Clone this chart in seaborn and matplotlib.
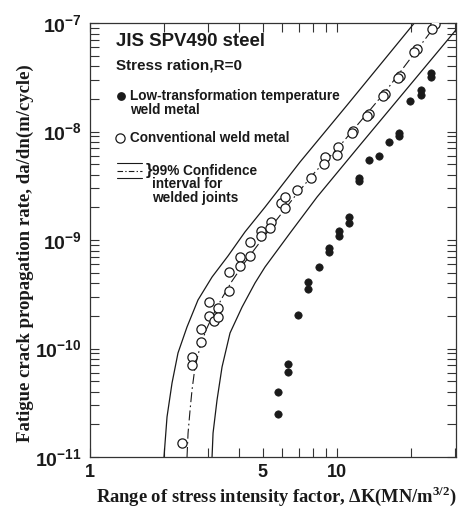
import matplotlib
matplotlib.use("Agg")
import matplotlib.pyplot as plt
import seaborn as sns
import pandas as pd
from matplotlib.ticker import FixedLocator, FixedFormatter, NullFormatter

# ---------------- data ----------------
conv_dk = [2.358, 2.588, 2.588, 2.814, 2.814, 3.032, 3.032, 3.177, 3.298, 3.298,
           3.654, 3.654, 4.049, 4.049, 4.445, 4.445, 4.925, 4.925, 5.405, 5.355,
           5.933, 6.158, 6.158, 6.889, 7.846, 8.942, 8.860, 10.09, 10.0, 11.61,
           11.50, 13.48, 13.23, 15.64, 15.36, 17.99, 17.66, 21.08, 20.50, 24.94, 24.25]
conv_rate = [1.35e-11, 8.35e-11, 7.05e-11, 1.51e-10, 1.15e-10, 2.68e-10, 2.0e-10, 1.79e-10,
             2.36e-10, 1.95e-10, 5.07e-10, 3.39e-10, 6.97e-10, 5.76e-10, 7.13e-10, 9.59e-10,
             1.21e-9, 1.09e-9, 1.47e-9, 1.29e-9, 2.19e-9, 2.49e-9, 1.97e-9, 2.89e-9, 3.73e-9,
             5.82e-9, 5.01e-9, 7.19e-9, 6.07e-9, 1.01e-8, 9.69e-9, 1.45e-8, 1.39e-8, 2.22e-8,
             2.12e-8, 3.25e-8, 3.11e-8, 5.76e-8, 5.41e-8, 9.79e-8, 8.81e-8]

ltt_dk = [5.769, 5.769, 6.333, 6.333, 6.953, 7.630, 7.630, 8.456, 9.282, 9.282,
          10.19, 10.19, 11.18, 11.18, 12.28, 12.28, 13.48, 14.79, 16.24, 17.82,
          17.82, 19.75, 21.88, 21.88, 24.02, 24.02]
ltt_rate = [2.49e-11, 3.97e-11, 6.07e-11, 7.2e-11, 2.04e-10, 3.53e-10, 4.1e-10, 5.64e-10,
            7.75e-10, 8.44e-10, 1.09e-9, 1.21e-9, 1.44e-9, 1.63e-9, 3.5e-9, 3.73e-9,
            5.46e-9, 5.94e-9, 8.0e-9, 9.1e-9, 9.69e-9, 1.91e-8, 2.17e-8, 2.41e-8,
            3.18e-8, 3.46e-8]

upper_dk = [1.993, 2.050, 2.148, 2.271, 2.470, 2.736, 3.119, 3.620, 4.243, 5.110,
            7.084, 10.98, 20.70]
upper_rate = [1.0e-11, 2.34e-11, 4.81e-11, 9.1e-11, 1.58e-10, 2.80e-10, 4.56e-10,
              7.13e-10, 1.19e-9, 2.01e-9, 5.24e-9, 1.75e-8, 1.02e-7]

mean_dk = [2.470, 2.494, 2.541, 2.588, 2.661, 2.788, 2.949, 3.148, 3.423, 3.758,
           4.243, 4.879, 5.610, 6.761, 8.146, 10.09, 15.64, 24.94]
mean_rate = [1.0e-11, 1.66e-11, 2.71e-11, 4.15e-11, 6.75e-11, 1.03e-10, 1.48e-10,
             2.04e-10, 2.92e-10, 4.19e-10, 6.27e-10, 9.59e-10, 1.47e-9, 2.54e-9,
             4.23e-9, 7.05e-9, 2.31e-8, 9.39e-8]

lower_dk = [3.119, 3.148, 3.267, 3.423, 3.688, 4.126, 4.656, 5.110, 6.453, 8.299,
            12.39, 31.47]
lower_rate = [1.0e-11, 1.66e-11, 3.35e-11, 6.75e-11, 1.39e-10, 2.41e-10, 4.02e-10,
              5.64e-10, 1.16e-9, 2.49e-9, 7.51e-9, 9.59e-8]

x_major = [1, 5, 10]
x_major_labels = ["1", "5", "10"]
x_minor = [2, 3, 4, 6, 7, 8, 9, 20, 30]
y_major = [1e-11, 1e-10, 1e-9, 1e-8, 1e-7]
y_major_labels = [r"$\mathsf{10^{-11}}$", r"$\mathsf{10^{-10}}$", r"$\mathsf{10^{-9}}$",
                  r"$\mathsf{10^{-8}}$", r"$\mathsf{10^{-7}}$"]
y_minor = [m * 10.0 ** e for e in range(-11, -7) for m in range(2, 10)]

# ---------------- style ----------------
sns.set_style("ticks")
plt.rcParams["font.family"] = ["Liberation Sans", "DejaVu Sans"]
plt.rcParams["font.weight"] = "bold"
plt.rcParams["mathtext.fontset"] = "custom"
plt.rcParams["mathtext.rm"] = "Liberation Serif:bold"
plt.rcParams["mathtext.sf"] = "Liberation Sans:bold"
plt.rcParams["mathtext.bf"] = "Liberation Sans:bold"

INK = "#1a1a1a"
FW, FH = 465, 512
fig = plt.figure(figsize=(FW / 100, FH / 100), dpi=100)
L, R, T, B = 90, 456, 23, 457
ax = fig.add_axes([L / FW, 1 - B / FH, (R - L) / FW, (B - T) / FH])
ax.set_xscale("log")
ax.set_yscale("log")

lw = 0.9
sns.lineplot(x=upper_dk, y=upper_rate, ax=ax, color=INK, lw=lw, sort=False, estimator=None)
sns.lineplot(x=lower_dk, y=lower_rate, ax=ax, color=INK, lw=lw, sort=False, estimator=None)
sns.lineplot(x=mean_dk, y=mean_rate, ax=ax, color=INK, lw=0.8, sort=False, estimator=None,
             linestyle=(0, (9, 3, 1.5, 3)))

sns.scatterplot(x=conv_dk, y=conv_rate, ax=ax, marker="o", s=44, color="white",
                facecolor="white", edgecolor=INK, linewidth=0.9, zorder=3)
sns.scatterplot(x=ltt_dk, y=ltt_rate, ax=ax, marker="o", s=28, color=INK,
                edgecolor=INK, linewidth=0.5, zorder=3)

ax.set_xlim(1, 30.3)
ax.set_ylim(1e-11, 1e-7)

ax.xaxis.set_major_locator(FixedLocator(x_major))
ax.xaxis.set_major_formatter(FixedFormatter(x_major_labels))
ax.xaxis.set_minor_locator(FixedLocator(x_minor))
ax.xaxis.set_minor_formatter(NullFormatter())
ax.yaxis.set_major_locator(FixedLocator(y_major))
ax.yaxis.set_major_formatter(FixedFormatter(y_major_labels))
ax.yaxis.set_minor_locator(FixedLocator(y_minor))
ax.yaxis.set_minor_formatter(NullFormatter())

ax.tick_params(which="both", direction="in", length=6.5, width=0.8, color="#333333",
               top=True, right=True, labelcolor=INK)
ax.tick_params(axis="x", which="major", pad=5, labelsize=13)
ax.tick_params(axis="y", which="major", pad=6, labelsize=14)
for sp in ax.spines.values():
    sp.set_linewidth(0.9)
    sp.set_color("#333333")
    sp.set_visible(True)

ax.set_xlabel("")
ax.set_ylabel("")
serif = ["Liberation Serif", "DejaVu Serif"]
fig.text(276 / FW, 1 - 496 / FH, r"Range of stress intensity factor, $\Delta$K(MN/m$^{3/2}$)",
         ha="center", va="center", fontsize=13.3, family=serif, weight="bold", color=INK)
fig.text(25 / FW, 1 - 253 / FH, "Fatigue crack propagation rate, da/dn(m/cycle)",
         ha="center", va="center", rotation=90, fontsize=13.5, family=serif,
         weight="bold", color=INK)

# ---------------- legend block ----------------
def ax_xy(px, py):
    return (px - L) / (R - L), (B - py) / (B - T)

def txt(px, py, s, size, **kw):
    x, y = ax_xy(px, py)
    ax.text(x, y, s, transform=ax.transAxes, ha="left", va="center", fontsize=size,
            weight="bold", color=INK, **kw)

txt(116, 42, "JIS SPV490 steel", 13.4)
txt(116, 65, "Stress ration,R=0", 11)
txt(130, 96, "Low-transformation temperature", 9.8)
txt(130, 110, "weld metal", 9.8)
txt(130, 138, "Conventional weld metal", 9.8)
txt(146, 170, "}", 12.5, family=["Liberation Sans"])
txt(152, 171, "99% Confidence", 9.8)
txt(152, 184, "interval for", 9.8)
txt(152, 198, "welded joints", 9.8)

x0, y0 = ax_xy(121, 96)
ax.scatter([x0], [y0], transform=ax.transAxes, s=28, color=INK, zorder=4, clip_on=False)
x0, y0 = ax_xy(120, 138)
ax.scatter([x0], [y0], transform=ax.transAxes, s=44, facecolor="white", edgecolor=INK,
           linewidth=0.9, zorder=4, clip_on=False)
xa, _ = ax_xy(117, 0)
xb, _ = ax_xy(142, 0)
for py, ls in [(163, "-"), (171, (0, (5, 2, 1.2, 2))), (178, "-")]:
    _, yy = ax_xy(0, py)
    ax.plot([xa, xb], [yy, yy], transform=ax.transAxes, color=INK, lw=0.8, linestyle=ls)

fig.savefig("out.png", dpi=100)
